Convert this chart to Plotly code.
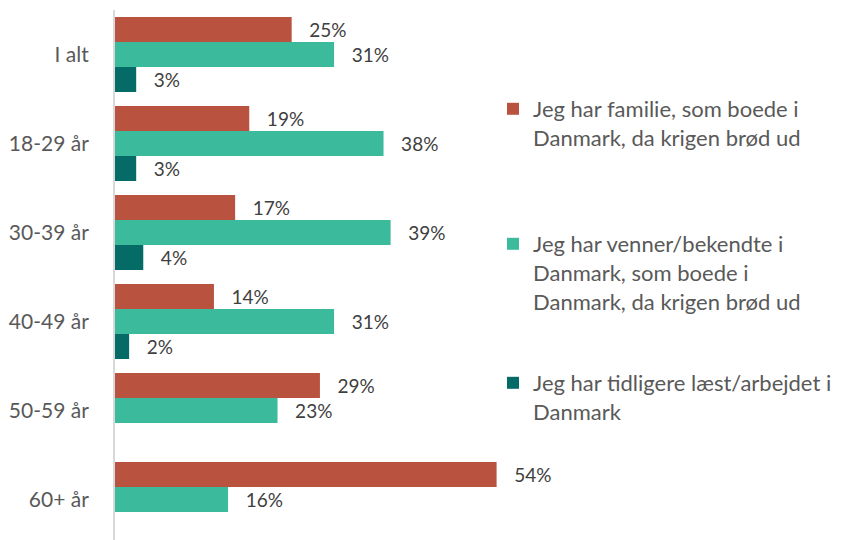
import plotly.graph_objects as go

categories = ["I alt", "18-29 år", "30-39 år", "40-49 år", "50-59 år", "60+ år"]
series_names = [
    "Jeg har familie, som boede i<br>Danmark, da krigen brød ud",
    "Jeg har venner/bekendte i<br>Danmark, som boede i<br>Danmark, da krigen brød ud",
    "Jeg har tidligere læst/arbejdet i<br>Danmark",
]
familie = [25, 19, 17, 14, 29, 54]
venner = [31, 38, 39, 31, 23, 16]
studeret = [3, 3, 4, 2, None, None]

colors = ["#B9523F", "#3CBB9C", "#056B67"]
legends = ["legend", "legend2", "legend3"]
values = [familie, venner, studeret]

FONT = "Lato, 'Open Sans', sans-serif"

fig = go.Figure()
for name, vals, col, lg in zip(series_names, values, colors, legends):
    fig.add_trace(go.Bar(
        y=categories, x=vals, orientation="h", name=name,
        marker=dict(color=col, line=dict(width=0)),
        text=[None if v is None else f"{v}%" for v in vals],
        texttemplate="\u00a0\u00a0\u00a0%{text}",
        textposition="outside", cliponaxis=False,
        textfont=dict(family=FONT, size=19, color="#404040"),
        legend=lg,
    ))

leg_common = dict(
    xref="container", yref="container", xanchor="left", yanchor="top",
    font=dict(family=FONT, size=22, color="#595959"),
    bgcolor="rgba(0,0,0,0)", valign="top", itemclick=False,
)
fig.update_layout(
    width=841, height=540,
    margin=dict(l=107, r=310, t=2, b=0, autoexpand=False),
    plot_bgcolor="white", paper_bgcolor="white",
    barmode="group", bargap=0.157, bargroupgap=0,
    showlegend=True,
    legend=dict(x=485 / 841, y=1 - 80 / 540, **leg_common),
    legend2=dict(x=485 / 841, y=1 - 215 / 540, **leg_common),
    legend3=dict(x=485 / 841, y=1 - 354 / 540, **leg_common),
    xaxis=dict(range=[0, 60], visible=False, showgrid=False, zeroline=False,
               automargin=False),
    yaxis=dict(
        type="category", categoryorder="array", categoryarray=categories,
        range=[5.545, -0.5], showline=True, linecolor="#D9D9D9", linewidth=2,
        showgrid=False, ticks="", ticklabelstandoff=20, automargin=False,
        tickfont=dict(family=FONT, size=21, color="#595959"),
    ),
)

fig.write_html("out.html")
